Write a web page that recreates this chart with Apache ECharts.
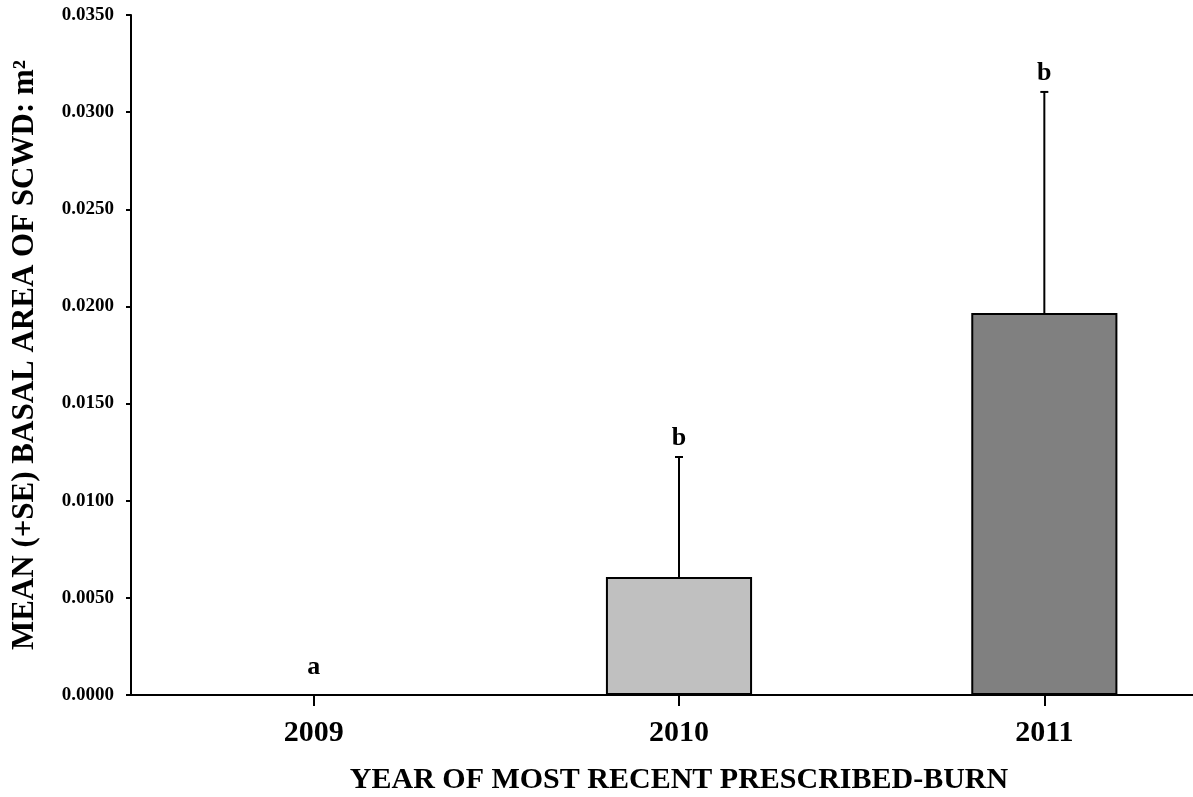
<!DOCTYPE html>
<html>
<head>
<meta charset="utf-8">
<script src="https://cdn.jsdelivr.net/npm/echarts@6/dist/echarts.min.js"></script>
<style>
  html, body { margin: 0; padding: 0; background: #fff; }
  #chart { width: 1193px; height: 797px; }
</style>
</head>
<body>
<div id="chart"></div>
<script>
// Burn-year groups and mean basal area of SCWD (m²) with standard errors
const years = ['2009', '2010', '2011'];
const means = [0, 0.00607, 0.01966];
const stdErrs = [0, 0.00618, 0.01138];
const groupLetters = ['a', 'b', 'b'];
const barColors = ['#c0c0c0', '#c0c0c0', '#808080'];
const yTicks = { min: 0, max: 0.035, step: 0.005 };

const serif = '"Liberation Serif", "Times New Roman", serif';

const chart = echarts.init(document.getElementById('chart'));

chart.setOption({
  animation: false,
  backgroundColor: '#ffffff',
  grid: { left: 131, top: 15, bottom: 102, width: 1096, outerBoundsMode: 'none', containLabel: false },
  xAxis: {
    type: 'category',
    data: years,
    boundaryGap: true,
    name: 'YEAR OF MOST RECENT PRESCRIBED-BURN',
    nameLocation: 'middle',
    nameGap: 70,
    nameTextStyle: { fontFamily: serif, fontWeight: 'bold', fontSize: 30, color: '#000' },
    axisLine: { show: true, lineStyle: { color: '#000', width: 2 } },
    axisTick: { show: true, alignWithLabel: true, length: 11, lineStyle: { color: '#000', width: 2 } },
    axisLabel: { fontFamily: serif, fontWeight: 'bold', fontSize: 30, color: '#000', margin: 23 },
    splitLine: { show: false }
  },
  yAxis: {
    type: 'value',
    min: yTicks.min,
    max: yTicks.max,
    interval: yTicks.step,
    name: 'MEAN (+SE) BASAL AREA OF SCWD: m²',
    nameLocation: 'middle',
    nameGap: 91,
    nameRotate: 90,
    nameTextStyle: { fontFamily: serif, fontWeight: 'bold', fontSize: 31, color: '#000' },
    axisLine: { show: true, lineStyle: { color: '#000', width: 2 } },
    axisTick: { show: true, length: 5, lineStyle: { color: '#000', width: 2 } },
    axisLabel: {
      fontFamily: serif, fontWeight: 'bold', fontSize: 19, color: '#000', margin: 17,
      formatter: v => v.toFixed(4)
    },
    splitLine: { show: false }
  },
  series: [
    {
      type: 'bar',
      barWidth: '40%',
      data: means.map((v, i) => ({
        value: v,
        itemStyle: { color: barColors[i], borderColor: '#000', borderWidth: v > 0 ? 2 : 0 }
      })),
      z: 2
    },
    {
      // SE whiskers (upper only) with group letters above them
      type: 'custom',
      data: means.map((v, i) => [i, v, v + stdErrs[i]]),
      z: 3,
      renderItem: (params, api) => {
        const i = api.value(0);
        const base = api.coord([i, api.value(1)]);
        const top = api.coord([i, api.value(2)]);
        const children = [];
        if (api.value(2) > api.value(1)) {
          children.push({
            type: 'line',
            shape: { x1: base[0], y1: base[1], x2: top[0], y2: top[1] },
            style: { stroke: '#000', lineWidth: 2 }
          });
          children.push({
            type: 'line',
            shape: { x1: top[0] - 4, y1: top[1], x2: top[0] + 4, y2: top[1] },
            style: { stroke: '#000', lineWidth: 2 }
          });
        }
        children.push({
          type: 'text',
          style: {
            x: top[0], y: top[1] - (api.value(2) > 0 ? 19 : 28),
            text: groupLetters[i],
            fill: '#000',
            font: 'bold 26px ' + serif,
            textAlign: 'center',
            textVerticalAlign: 'middle'
          }
        });
        return { type: 'group', children };
      }
    }
  ]
});
</script>
</body>
</html>
